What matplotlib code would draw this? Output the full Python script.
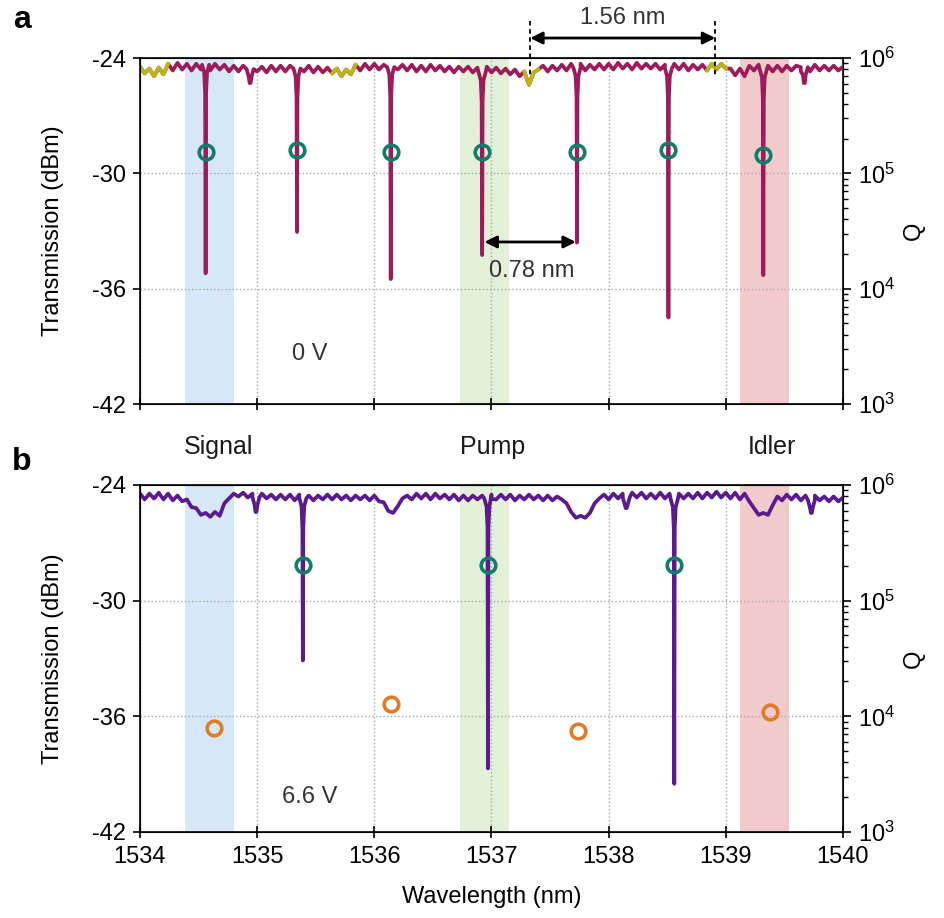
import numpy as np
import matplotlib.pyplot as plt

plt.rcParams['font.family'] = ['Liberation Sans', 'DejaVu Sans']
plt.rcParams['mathtext.fontset'] = 'custom'
plt.rcParams['mathtext.rm'] = 'Liberation Sans'
plt.rcParams['mathtext.it'] = 'Liberation Sans:italic'
plt.rcParams['axes.unicode_minus'] = False

# baseline of the traces, sampled every 0.04 nm from 1534 nm
wl_start = 1534.0
wl_step = 0.04
ripple_a = [
    -24.45, -24.80, -24.55, -24.95, -24.50, -24.85, -24.30, -24.65, -24.25, -24.60,
    -24.30, -24.65, -24.30, -24.60, -24.35, -24.65, -24.30, -24.60, -24.35, -24.70,
    -24.40, -24.70, -24.40, -24.75, -24.40, -24.70, -24.45, -24.75, -24.40, -24.70,
    -24.40, -24.70, -24.40, -24.75, -24.35, -24.70, -24.40, -24.75, -24.45, -24.75,
    -24.50, -24.80, -24.55, -24.95, -24.60, -24.85, -24.35, -24.65, -24.30, -24.60,
    -24.30, -24.60, -24.35, -24.65, -24.30, -24.60, -24.35, -24.65, -24.35, -24.70,
    -24.40, -24.70, -24.35, -24.65, -24.40, -24.70, -24.45, -24.75, -24.45, -24.70,
    -24.45, -24.75, -24.50, -24.75, -24.45, -24.75, -24.50, -24.80, -24.55, -24.85,
    -24.60, -24.95, -24.70, -25.40, -24.75, -24.60, -24.40, -24.70, -24.40, -24.65,
    -24.35, -24.65, -24.30, -24.60, -24.30, -24.65, -24.35, -24.60, -24.30, -24.60,
    -24.30, -24.60, -24.25, -24.55, -24.30, -24.60, -24.25, -24.55, -24.30, -24.55,
    -24.30, -24.60, -24.35, -24.60, -24.30, -24.60, -24.30, -24.65, -24.35, -24.60,
    -24.35, -24.65, -24.30, -24.60, -24.30, -24.55, -24.55, -24.90, -24.55, -24.95,
    -24.40, -24.65, -24.35, -24.60, -24.40, -24.70, -24.40, -24.70, -24.40, -24.65,
    -24.40, -24.70, -24.40, -24.70, -24.35, -24.65, -24.40, -24.65, -24.40, -24.65,
    -24.45]
ripple_b = [
    -24.45, -24.75, -24.45, -24.70, -24.40, -24.75, -24.45, -24.80, -24.55, -24.85,
    -24.75, -25.15, -25.20, -25.55, -25.45, -25.65, -25.40, -25.60, -24.95, -24.70,
    -24.45, -24.60, -24.40, -24.65, -24.45, -24.70, -24.45, -24.70, -24.50, -24.75,
    -24.50, -24.75, -24.50, -24.80, -24.50, -24.75, -24.55, -24.80, -24.55, -24.75,
    -24.50, -24.75, -24.50, -24.75, -24.55, -24.80, -24.55, -24.75, -24.55, -24.80,
    -24.55, -24.85, -24.90, -25.35, -25.45, -25.10, -24.70, -24.55, -24.75, -24.45,
    -24.70, -24.45, -24.75, -24.45, -24.70, -24.50, -24.75, -24.50, -24.80, -24.55,
    -24.80, -24.55, -24.75, -24.55, -24.80, -24.50, -24.75, -24.50, -24.75, -24.50,
    -24.80, -24.55, -24.75, -24.50, -24.75, -24.55, -24.80, -24.55, -24.80, -24.60,
    -24.75, -24.95, -25.40, -25.70, -25.60, -25.70, -25.45, -24.95, -24.70, -24.50,
    -24.75, -24.45, -24.70, -24.45, -24.70, -24.40, -24.65, -24.40, -24.70, -24.45,
    -24.70, -24.40, -24.70, -24.45, -24.75, -24.45, -24.70, -24.45, -24.70, -24.40,
    -24.70, -24.40, -24.65, -24.35, -24.65, -24.40, -24.70, -24.40, -24.75, -24.45,
    -24.85, -25.20, -25.55, -25.45, -25.55, -25.05, -24.60, -24.80, -24.50, -24.75,
    -24.50, -24.80, -24.55, -24.85, -24.55, -24.80, -24.60, -24.85, -24.60, -24.85,
    -24.65]

# sharp resonances: centre (nm) and bottom (dBm)
dips_a_wl = [1534.56, 1534.94, 1535.34, 1536.14, 1536.92, 1537.73, 1538.51, 1539.32, 1539.67]
dips_a_db = [-35.2, -25.3, -33.05, -35.5, -34.25, -33.6, -37.5, -35.3, -25.3]
dips_b_wl = [1534.99, 1535.39, 1536.97, 1538.15, 1538.56, 1539.73]
dips_b_db = [-25.4, -33.1, -38.7, -25.2, -39.5, -25.45]

# parts of trace a that belong to the other mode family
yellow_a = [(1534.0, 1534.24), (1535.64, 1535.86), (1537.26, 1537.40), (1538.84, 1539.01)]

# loaded Q
q_a_wl = [1534.56, 1535.34, 1536.14, 1536.92, 1537.73, 1538.51, 1539.32]
q_a = [1.53e5, 1.6e5, 1.53e5, 1.53e5, 1.53e5, 1.6e5, 1.44e5]
q_b_wl = [1535.39, 1536.97, 1538.56]
q_b = [2.04e5, 2.04e5, 2.04e5]
q_b_low_wl = [1534.63, 1536.14, 1537.74, 1539.38]
q_b_low = [7.9e3, 1.28e4, 7.5e3, 1.09e4]

band_edges = [(1534.38, 1534.80), (1536.73, 1537.15), (1539.12, 1539.54)]
band_colors = ['#d6e8f8', '#e2f0d7', '#f1cbcb']
band_labels = ['Signal', 'Pump', 'Idler']

fsr_marks = [1537.33, 1538.91]
spacing_marks = [1536.94, 1537.72]

GREEN = '#127d6a'
ORANGE = '#e07c24'


def build_trace(ripple, dip_wl, dip_db):
    x = wl_start + wl_step * np.arange(len(ripple))
    y = np.array(ripple)
    keep = np.ones(len(x), bool)
    px, py = [], []
    for c, d in zip(dip_wl, dip_db):
        keep &= np.abs(x - c) > 0.028
        b = np.interp(c, x, y)
        for off, drop in [(-0.03, 0), (-0.012, 0.4), (-0.004, 1.5), (0, None),
                          (0.004, 1.5), (0.012, 0.4), (0.03, 0)]:
            px.append(c + off)
            py.append(d if drop is None else max(b - drop, d))
    tx = np.concatenate([x[keep], px])
    ty = np.concatenate([y[keep], py])
    order = np.argsort(tx)
    return tx[order], ty[order]


def setup(ax, show_x):
    for (lo, hi), col in zip(band_edges, band_colors):
        ax.axvspan(lo, hi, color=col, lw=0, zorder=0)
    ax.set_xlim(1534, 1540)
    ax.set_ylim(-42, -24)
    ax.set_yticks([-42, -36, -30, -24])
    ax.set_xticks(range(1534, 1541))
    ax.grid(True, ls=':', color='#a8a8a8', lw=1.0)
    ax.set_axisbelow(True)
    ax.tick_params(axis='y', direction='out', length=5, width=1.2, labelsize=17, pad=5)
    ax.tick_params(axis='x', direction='inout', length=8, width=1.2, labelsize=17, pad=6,
                   labelbottom=show_x)
    for s in ax.spines.values():
        s.set_linewidth(1.2)
    ax.set_ylabel('Transmission (dBm)', fontsize=17)
    ax.yaxis.set_label_coords(-0.108, 0.5)
    tw = ax.twinx()
    tw.set_yscale('log')
    tw.set_ylim(1e3, 1e6)
    tw.tick_params(axis='y', which='major', direction='out', length=6, width=1.2,
                   labelsize=17, pad=5)
    tw.tick_params(axis='y', which='minor', direction='out', length=3.5, width=1.0)
    tw.set_ylabel('Q', fontsize=17, rotation=90)
    tw.yaxis.set_label_coords(1.085, 0.5)
    return tw


fig = plt.figure(figsize=(9.44, 9.18), dpi=100)
ax_a = fig.add_axes([0.1483, 0.5599, 0.7447, 0.3769])
ax_b = fig.add_axes([0.1483, 0.0937, 0.7447, 0.378])

# panel a
tw_a = setup(ax_a, False)
tx, ty = build_trace(ripple_a, dips_a_wl, dips_a_db)
ax_a.plot(tx, ty, color='#9c1b5b', lw=2.7, solid_joinstyle='round', zorder=3)
for lo, hi in yellow_a:
    m = (tx >= lo) & (tx <= hi)
    ax_a.plot(tx[m], ty[m], color='#b9b616', lw=2.7, solid_joinstyle='round', zorder=4)
tw_a.plot(q_a_wl, q_a, 'o', ms=10.5, mfc='none', mec=GREEN, mew=2.6, zorder=5)

for xm in fsr_marks:
    ax_a.plot([xm, xm], [-22.1, -25.0], ls=(0, (2.5, 2)), color='k', lw=1.3,
              clip_on=False, zorder=6)
ax_a.annotate('', xy=(fsr_marks[0], -22.96), xytext=(fsr_marks[1], -22.96),
              arrowprops=dict(arrowstyle='<|-|>', mutation_scale=18, lw=2, color='k',
                              shrinkA=0, shrinkB=0),
              annotation_clip=False)
ax_a.text(np.mean(fsr_marks), -21.9, '1.56 nm', fontsize=17, color='#333333',
          ha='center', va='center')
ax_a.annotate('', xy=(spacing_marks[0], -33.57), xytext=(spacing_marks[1], -33.57),
              arrowprops=dict(arrowstyle='<|-|>', mutation_scale=18, lw=2, color='k',
                              shrinkA=0, shrinkB=0))
ax_a.text(1537.345, -35.08, '0.78 nm', fontsize=17, color='#333333',
          ha='center', va='center')
ax_a.text(1535.45, -39.4, '0 V', fontsize=17, color='#333333', ha='center', va='center')

# panel b
tw_b = setup(ax_b, True)
tx, ty = build_trace(ripple_b, dips_b_wl, dips_b_db)
ax_b.plot(tx, ty, color='#5b1a8d', lw=2.7, solid_joinstyle='round', zorder=3)
tw_b.plot(q_b_wl, q_b, 'o', ms=10.5, mfc='none', mec=GREEN, mew=2.6, zorder=5)
tw_b.plot(q_b_low_wl, q_b_low, 'o', ms=10.5, mfc='none', mec=ORANGE, mew=2.6, zorder=5)
ax_b.text(1535.45, -40.18, '6.6 V', fontsize=17, color='#333333', ha='center', va='center')
ax_b.set_xlabel('Wavelength (nm)', fontsize=17)
ax_b.xaxis.set_label_coords(0.5, -0.155)

for lab, fx in zip(band_labels, [0.231, 0.522, 0.818]):
    fig.text(fx, 0.513, lab, fontsize=18, color='#1a1a1a', ha='center', va='center')
fig.text(0.023, 0.978, 'a', fontsize=23, fontweight='bold', ha='center', va='center')
fig.text(0.023, 0.497, 'b', fontsize=23, fontweight='bold', ha='center', va='center')

fig.savefig('out.png', dpi=100)
